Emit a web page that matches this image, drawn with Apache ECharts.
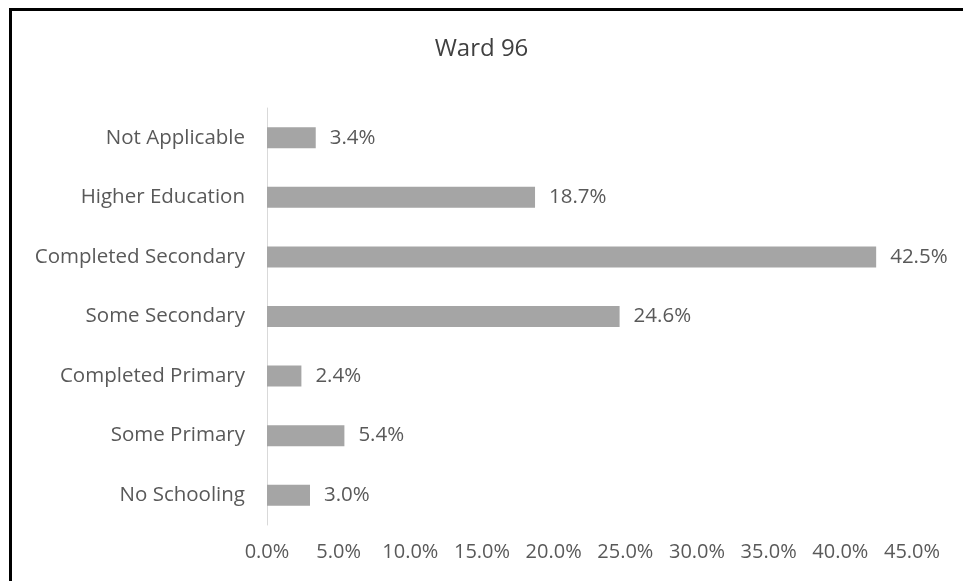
<!DOCTYPE html>
<html>
<head>
<meta charset="utf-8">
<style>
  html, body { margin: 0; padding: 0; background: #fff; }
  #chart { width: 963px; height: 581px; }
</style>
<script src="https://cdn.jsdelivr.net/npm/echarts@6/dist/echarts.min.js"></script>
</head>
<body>
<div id="chart"></div>
<script>
// Education level shares, listed bottom-to-top as drawn on the category axis
const categories = [
  'No Schooling',
  'Some Primary',
  'Completed Primary',
  'Some Secondary',
  'Completed Secondary',
  'Higher Education',
  'Not Applicable'
];
const shares = [3.0, 5.4, 2.4, 24.6, 42.5, 18.7, 3.4];
const axisMin = 0;
const axisMax = 45;
const axisStep = 5;

const font = '"Open Sans", "DejaVu Sans", sans-serif';
const textColor = '#595959';

const chart = echarts.init(document.getElementById('chart'), null, { renderer: 'canvas' });
chart.setOption({
  animation: false,
  backgroundColor: '#ffffff',
  title: {
    text: 'Ward 96',
    left: 'center',
    top: 32,
    textStyle: { fontFamily: font, fontSize: 24, fontWeight: 'normal', color: '#404040' }
  },
  graphic: [{
    type: 'rect',
    shape: { x: 10.5, y: 9.5, width: 970, height: 590 },
    style: { fill: 'none', stroke: '#000', lineWidth: 3 },
    silent: true
  }],
  grid: { left: 267, right: 51, top: 108, bottom: 56, containLabel: false },
  xAxis: {
    type: 'value',
    min: axisMin,
    max: axisMax,
    interval: axisStep,
    axisLine: { show: false },
    axisTick: { show: false },
    splitLine: { show: false },
    axisLabel: {
      margin: 17,
      color: textColor,
      fontFamily: font,
      fontSize: 20,
      formatter: v => v.toFixed(1) + '%'
    }
  },
  yAxis: {
    type: 'category',
    data: categories,
    axisLine: { show: true, lineStyle: { color: '#d9d9d9', width: 1 } },
    axisTick: { show: false },
    axisLabel: {
      margin: 22,
      color: textColor,
      fontFamily: font,
      fontSize: 20.5
    }
  },
  series: [{
    type: 'bar',
    data: shares,
    barWidth: 21,
    itemStyle: { color: '#a5a5a5' },
    label: {
      show: true,
      position: 'right',
      distance: 14,
      color: textColor,
      fontFamily: font,
      fontSize: 20.5,
      formatter: p => p.value.toFixed(1) + '%'
    }
  }]
});
</script>
</body>
</html>
